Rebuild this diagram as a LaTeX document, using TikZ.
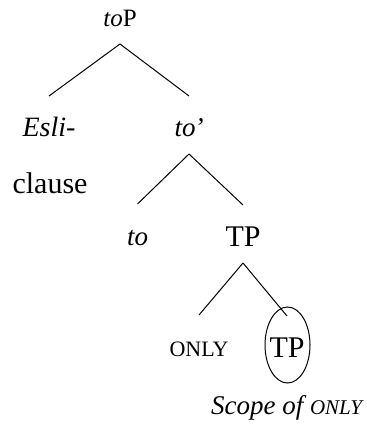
\documentclass[tikz,border=0pt]{standalone}
\usepackage{fontspec}
\setmainfont{Liberation Serif}
\usepackage{tikz}
\usetikzlibrary{shapes.geometric, positioning}
\newcommand{\fakesc}[2]{{\fontsize{#1}{#1}\selectfont #2}}

\begin{document}
\begin{tikzpicture}[x=0.5pt, y=-0.5pt,
  lv/.style={anchor=base, inner sep=0pt, outer ysep=8.5pt,
             text height=12pt, text depth=0pt,
             font=\fontsize{13.5}{15}\selectfont},
  big/.style={lv, font=\fontsize{15}{17}\selectfont},
  branch/.style={draw=black, line width=0.5pt},
  ring/.style={draw, ellipse, line width=0.5pt, inner sep=0pt,
               minimum width=22.5pt, minimum height=38pt},
  note/.style={inner sep=0pt, font=\fontsize{13.5}{15}\selectfont},
]
\useasboundingbox (0,0) rectangle (367,427);

% --- root: toP ---
\node[lv, font=\fontsize{12.5}{14}\selectfont] (toP) at (120,27) {\textit{to}P};
\node[lv, font=\fontsize{14}{16}\selectfont] (esli) at (49,137) {\textit{Esli-}};
\node[lv, font=\fontsize{15}{17}\selectfont] (clause) at (50,193) {clause};
\node[lv] (toBar) at (189,137) {\textit{to}\kern-0.5pt\textit{'}};
\draw[branch] (toP.south) -- (esli.north);
\draw[branch] (toP.south) -- (toBar.north);

% --- to' splits into to and TP ---
\node[lv] (toHead) at (137.5,245) {\textit{to}};
\node[big] (tp) at (243,246) {TP};
\draw[branch] (toBar.south) -- (toHead.north);
\draw[branch] (toBar.south) -- (tp.north);

% --- TP splits into ONLY and the circled TP ---
\node[lv] (only) at (199,356) {\fakesc{11pt}{ONLY}};
\node[big] (tpLow) at (287,357) {TP};
\draw[branch] (tp.south) -- (only.north);
\draw[branch] (tp.south) -- (tpLow.north);

\node[ring] (scope) at (287.5,345) {};
\node[note, below=6pt of scope] (scopeLabel)
  {\textit{Scope of \fakesc{10.5pt}{ONLY}}};
\end{tikzpicture}
\end{document}
